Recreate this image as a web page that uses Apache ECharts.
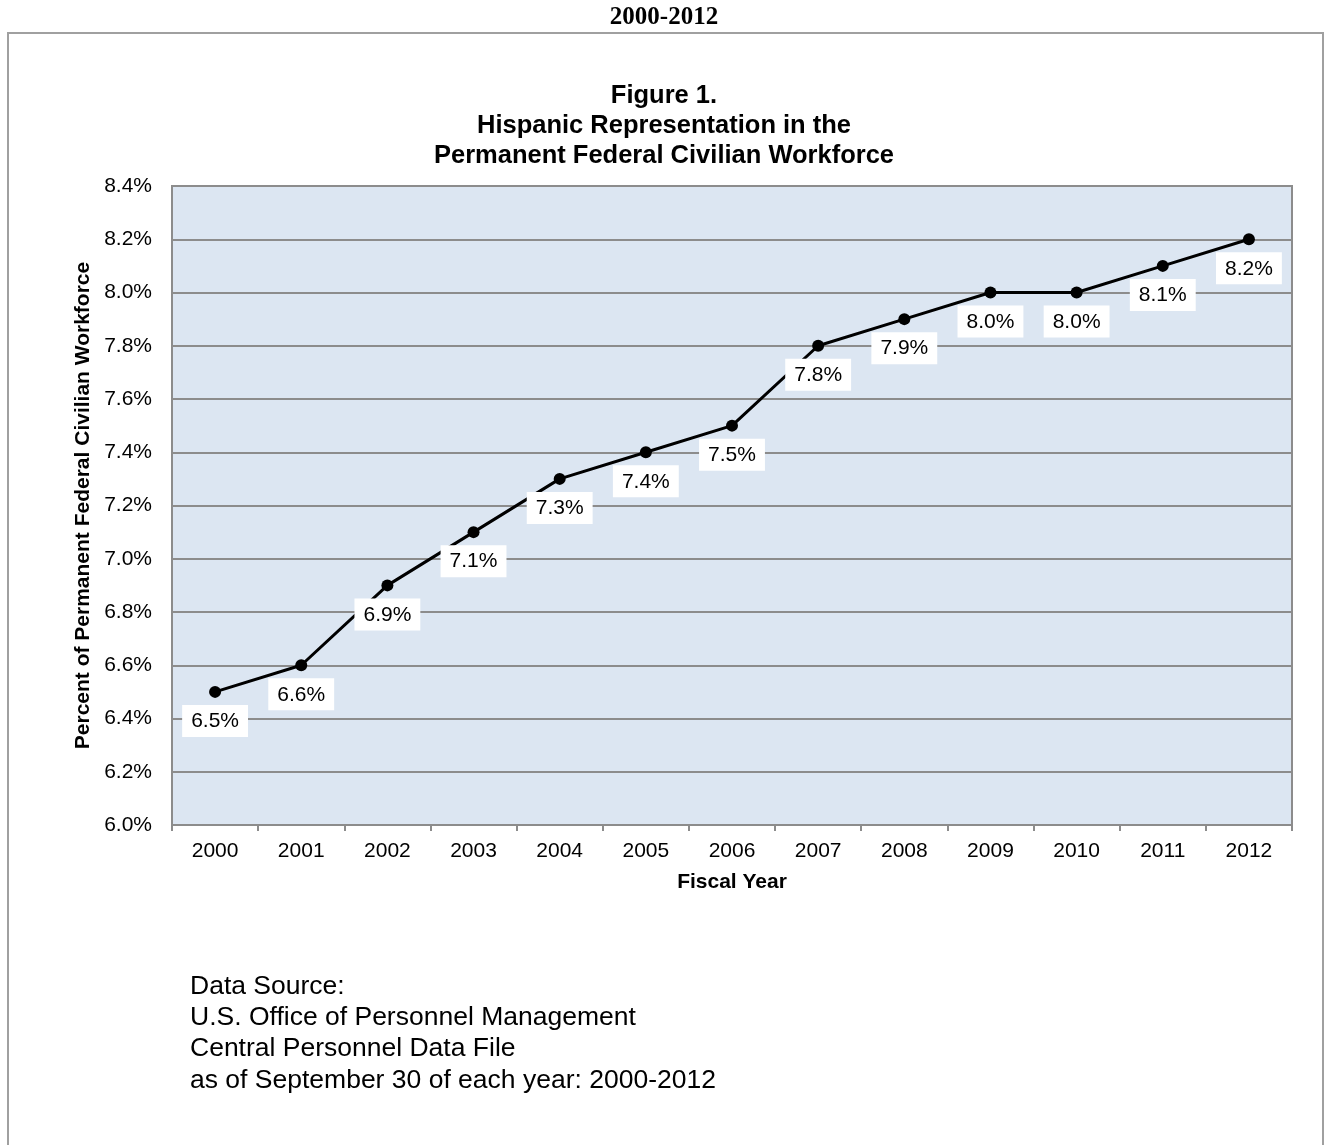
<!DOCTYPE html>
<html>
<head>
<meta charset="utf-8">
<script src="https://cdn.jsdelivr.net/npm/echarts@6/dist/echarts.min.js"></script>
<style>
html,body{margin:0;padding:0;background:#fff;}
#chart{width:1328px;height:1145px;}
</style>
</head>
<body>
<div id="chart"></div>
<script>
const years = ['2000','2001','2002','2003','2004','2005','2006','2007','2008','2009','2010','2011','2012'];
const hispanicPct = [6.5, 6.6, 6.9, 7.1, 7.3, 7.4, 7.5, 7.8, 7.9, 8.0, 8.0, 8.1, 8.2];
const sourceLines = [
  'Data Source:',
  'U.S. Office of Personnel Management',
  'Central Personnel Data File',
  'as of September 30 of each year: 2000-2012'
];

const chart = echarts.init(document.getElementById('chart'), null, {renderer: 'canvas'});
const gray = '#8c8c8c';
const sans = 'Liberation Sans, Arial, sans-serif';
chart.setOption({
  backgroundColor: '#ffffff',
  animation: false,
  title: {
    text: 'Figure 1.\nHispanic Representation in the\nPermanent Federal Civilian Workforce',
    left: 'center',
    top: 76,
    textStyle: {
      fontFamily: sans,
      fontSize: 25.5,
      fontWeight: 'bold',
      color: '#000',
      lineHeight: 30
    }
  },
  graphic: [
    {
      type: 'rect',
      shape: {x: 8, y: 33, width: 1315, height: 1200},
      style: {fill: 'none', stroke: '#a0a0a0', lineWidth: 2},
      silent: true
    },
    {
      type: 'text',
      x: 664, y: 18,
      style: {
        text: '2000-2012',
        fill: '#000',
        font: 'bold 25px "Liberation Serif", "Times New Roman", serif',
        align: 'center',
        verticalAlign: 'middle'
      }
    },
    {
      type: 'text',
      x: 190, y: 971,
      style: {
        text: sourceLines.join('\n'),
        fill: '#000',
        font: '26.5px "Liberation Sans", Arial, sans-serif',
        lineHeight: 31.2,
        align: 'left',
        verticalAlign: 'top'
      }
    }
  ],
  grid: {
    left: 172, top: 186, right: 36, bottom: 320,
    show: true,
    backgroundColor: '#dce6f2',
    borderColor: gray,
    borderWidth: 2
  },
  xAxis: {
    type: 'category',
    data: years,
    boundaryGap: true,
    name: 'Fiscal Year',
    nameLocation: 'middle',
    nameGap: 47,
    nameTextStyle: {
      fontFamily: sans,
      fontSize: 21, fontWeight: 'bold', color: '#000'
    },
    axisLine: {lineStyle: {color: gray, width: 2}},
    axisTick: {show: true, interval: 0, length: 6, lineStyle: {color: gray, width: 2}},
    axisLabel: {
      fontFamily: sans,
      fontSize: 21, color: '#000', margin: 16, interval: 0
    },
    splitLine: {show: false}
  },
  yAxis: {
    type: 'value',
    min: 6.0, max: 8.4, interval: 0.2,
    name: 'Percent of Permanent Federal Civilian Workforce',
    nameLocation: 'middle',
    nameGap: 74,
    nameRotate: 90,
    nameTextStyle: {
      fontFamily: sans,
      fontSize: 21, fontWeight: 'bold', color: '#000'
    },
    axisLine: {show: true, lineStyle: {color: gray, width: 2}},
    axisTick: {show: false},
    axisLabel: {
      fontFamily: sans,
      fontSize: 21, color: '#000', margin: 20,
      formatter: v => v.toFixed(1) + '%'
    },
    splitLine: {show: true, lineStyle: {color: gray, width: 2}}
  },
  series: [{
    type: 'line',
    data: hispanicPct,
    symbol: 'circle',
    symbolSize: 12,
    itemStyle: {color: '#000'},
    lineStyle: {color: '#000', width: 3},
    label: {
      show: true,
      position: 'bottom',
      distance: 7,
      formatter: p => p.value.toFixed(1) + '%',
      fontFamily: sans,
      fontSize: 21,
      color: '#000',
      backgroundColor: '#ffffff',
      padding: [6, 9, 5, 9]
    },
    z: 5
  }]
});
</script>
</body>
</html>
